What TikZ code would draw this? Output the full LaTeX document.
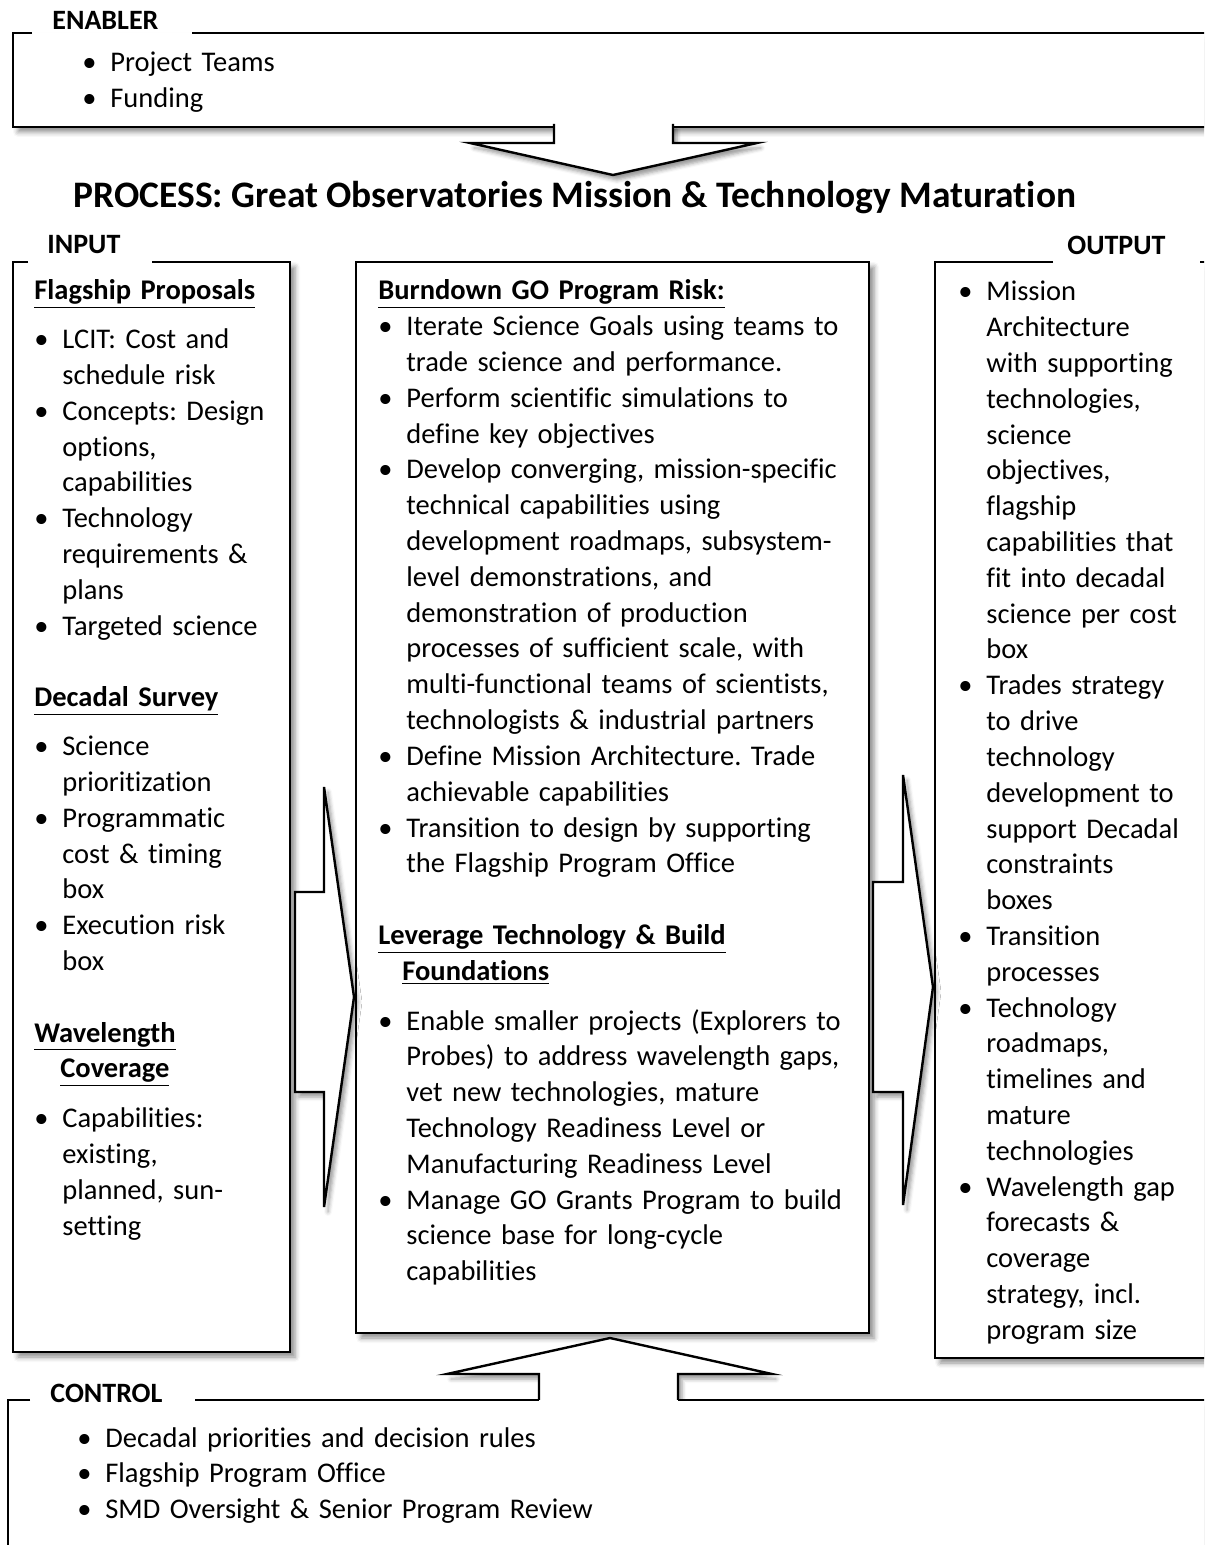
\documentclass[tikz,border=0pt]{standalone}
\usepackage{fontspec}
\setmainfont{Carlito}[Ligatures=NoCommon]
\usetikzlibrary{shadows.blur}
\setlength{\parindent}{0pt}
\frenchspacing

\tikzset{
	boxfill/.style={fill=white, blur shadow={shadow xshift=2.5pt, shadow yshift=-2.5pt, shadow blur radius=2.5pt, shadow opacity=45}},
	frame/.style={line width=1pt, line join=miter},
	bigarrow/.style={fill=white, draw, line width=1.2pt, line join=miter, blur shadow={shadow xshift=2pt, shadow yshift=-2.5pt, shadow blur radius=2pt, shadow opacity=40}},
	tag/.style={font=\fontsize{14}{16}\selectfont\bfseries, inner sep=0pt, anchor=west},
	listtext/.style={font=\fontsize{14.25}{17.9}\selectfont, align=left, inner sep=0pt, anchor=base west}
}
% one bullet item, ended by its own \par so that the hanging indent holds
\newcommand{\itm}[1]{\hangindent=14pt\hangafter=1\noindent\makebox[14pt][l]{\textbullet}#1\par}
\newcommand{\hdg}[1]{\textbf{\underline{#1}}}

\begin{document}
\begin{tikzpicture}[x=0.5pt, y=-0.5pt]
		\useasboundingbox (0,0) rectangle (1204,1545);
		\clip (0,0) rectangle (1204,1545);
		
		% enabler box
		\fill[boxfill] (13,33) rectangle (1215,127);
		\draw[frame] (32,33) -- (13,33) -- (13,127) -- (554,127);
		\draw[frame] (673,127) -- (1215,127);
		\draw[frame] (192,33) -- (1215,33);
		\node[tag] (enabler) at (52,20) {ENABLER};
		
		% input, process and output boxes
		\fill[boxfill] (13,262) rectangle (290,1352);
		\draw[frame] (28,262) -- (13,262) -- (13,1352) -- (290,1352) -- (290,262) -- (152,262);
		\node[tag] (input) at (47,245) {INPUT};
		
		\filldraw[boxfill, frame] (356,262) rectangle (869,1333);
		
		\fill[boxfill] (935,262) rectangle (1215,1358);
		\draw[frame] (1053,262) -- (935,262) -- (935,1358) -- (1215,1358);
		\draw[frame] (1200,262) -- (1215,262);
		\node[tag] (output) at (1067,245) {OUTPUT};
		
		% arrow up into the process box, drawn before the control box
		\filldraw[bigarrow] (539,1401) -- (539,1374) -- (447,1374) -- (610,1338) -- (772,1374) -- (678,1374) -- (678,1401);
		
		% control box
		\fill[boxfill] (8,1400) rectangle (1215,1570);
		\draw[frame] (30,1400) -- (8,1400) -- (8,1570);
		\draw[frame] (195,1400) -- (539,1400);
		\draw[frame] (678,1400) -- (1215,1400);
		\node[tag] (control) at (50,1393) {CONTROL};
		
		% other block arrows
		\filldraw[bigarrow] (554,124) -- (554,143) -- (470,143) -- (613,175) -- (757,143) -- (673,143) -- (673,124);
		\filldraw[bigarrow] (295,892) -- (324,892) -- (324,787) -- (354,997) -- (324,1207) -- (324,1092) -- (295,1092) -- cycle;
		\filldraw[bigarrow] (873,882) -- (903,882) -- (903,775) -- (933,987) -- (903,1205) -- (903,1092) -- (873,1092) -- cycle;
		
		\node[font=\fontsize{18.7}{22}\selectfont\bfseries] (title) at (575,198) {PROCESS: Great Observatories Mission \& Technology Maturation};
		
		\node[listtext, text width=300pt] (enablertext) at (82,72) {%
			\itm{Project Teams}
			\itm{Funding}};
		
		\node[listtext, text width=135pt] (inputtext) at (34,300) {%
			\hdg{Flagship Proposals}\par\vspace{6.5pt}
			\itm{LCIT: Cost and\newline schedule risk}
			\itm{Concepts: Design\newline options,\newline capabilities}
			\itm{Technology\newline requirements \&\newline plans}
			\itm{Targeted science}\vspace{17.9pt}
			\hdg{Decadal Survey}\par\vspace{6.5pt}
			\itm{Science\newline prioritization}
			\itm{Programmatic\newline cost \& timing\newline box}
			\itm{Execution risk\newline box}\vspace{17.9pt}
			\hdg{Wavelength}\newline\hspace*{13pt}\hdg{Coverage}\par\vspace{7pt}
			\itm{Capabilities:\newline existing,\newline planned, sun-\newline setting}};
		
		\node[listtext, text width=245pt] (processtext) at (378,300) {%
			\hdg{Burndown GO Program Risk:}\par
			\itm{Iterate Science Goals using teams to\newline trade science and performance.}
			\itm{Perform scientific simulations to\newline define key objectives}
			\itm{Develop converging, mission-specific\newline technical capabilities using\newline development roadmaps, subsystem-\newline level demonstrations, and\newline demonstration of production\newline processes of sufficient scale, with\newline multi-functional teams of scientists,\newline technologists \& industrial partners}
			\itm{Define Mission Architecture. Trade\newline achievable capabilities}
			\itm{Transition to design by supporting\newline the Flagship Program Office}\vspace{17.9pt}
			\hdg{Leverage Technology \& Build}\newline\hspace*{12pt}\hdg{Foundations}\par\vspace{7pt}
			\itm{Enable smaller projects (Explorers to\newline Probes) to address wavelength gaps,\newline vet new technologies, mature\newline Technology Readiness Level or\newline Manufacturing Readiness Level}
			\itm{Manage GO Grants Program to build\newline science base for long-cycle\newline capabilities}};
		
		\node[listtext, text width=130pt] (outputtext) at (958,301) {%
			\itm{Mission\newline Architecture\newline with supporting\newline technologies,\newline science\newline objectives,\newline flagship\newline capabilities that\newline fit into decadal\newline science per cost\newline box}
			\itm{Trades strategy\newline to drive\newline technology\newline development to\newline support Decadal\newline constraints\newline boxes}
			\itm{Transition\newline processes}
			\itm{Technology\newline roadmaps,\newline timelines and\newline mature\newline technologies}
			\itm{Wavelength gap\newline forecasts \&\newline coverage\newline strategy, incl.\newline program size}};
		
		\node[listtext, text width=300pt] (controltext) at (77,1447) {%
			\itm{Decadal priorities and decision rules}
			\itm{Flagship Program Office}
			\itm{SMD Oversight \& Senior Program Review}};
	\end{tikzpicture}
\end{document}
